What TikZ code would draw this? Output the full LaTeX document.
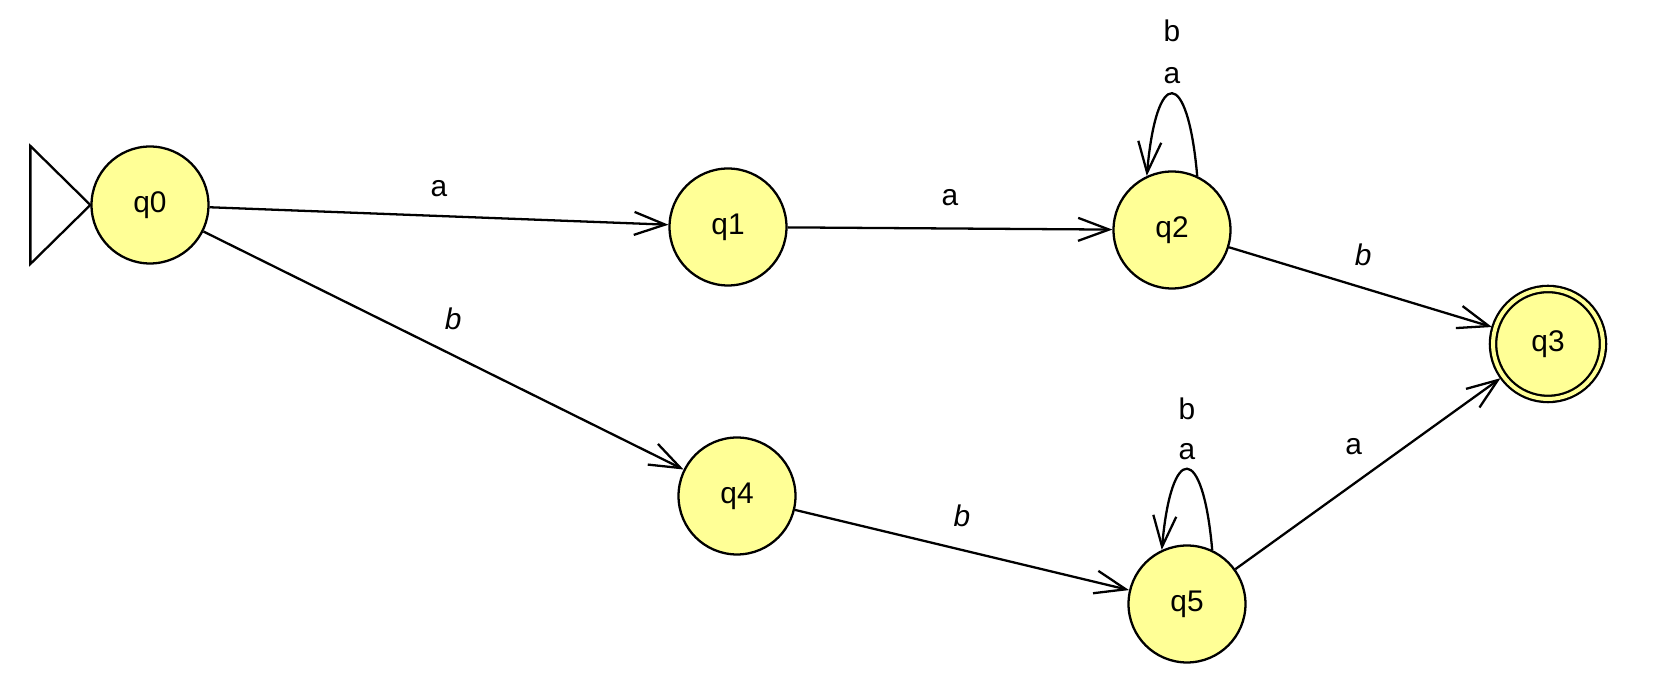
\documentclass[tikz,border=0pt]{standalone}
\usepackage{fontspec}
\setmainfont{Liberation Sans}
\usepackage{tikz}
\usetikzlibrary{arrows.meta}
\usetikzlibrary{positioning}
\definecolor{statefill}{RGB}{255,255,150}

\begin{document}
\begin{tikzpicture}[x=0.02cm, y=0.02cm,
    state/.style={circle, draw, fill=statefill, line width=1.3pt, minimum size=2.34cm, inner sep=0pt, font=\fontsize{17}{20}\selectfont},
    final/.style={state, minimum size=2.2cm, double=statefill, double distance=0.08cm, outer sep=0.07cm},
    trans/.style={line width=1.3pt, -{Straight Barb[length=0.62cm, width=0.46cm]}},
    lbl/.style={font=\fontsize{17}{20}\selectfont, inner sep=0.1cm}]
  \useasboundingbox (0,0) rectangle (1654,678);
  \node[state] (q0) at (150,473) {q0};
  \node[state] (q1) at (728,451) {q1};
  \node[state] (q2) at (1172,448) {q2};
  \node[final] (q3) at (1548,334) {q3};
  \node[state] (q4) at (737,182) {q4};
  \node[state] (q5) at (1187,74) {q5};
  \draw[line width=1.3pt, line join=miter] (q0.west) -- ++(-60,59) -- ++(0,-118) -- cycle;
  \draw[trans] (q0) -- node[lbl, above=0.26cm] (l01) {a} (q1);
  \draw[trans] (q1) -- node[lbl, above=0.34cm] (l12) {a} (q2);
  \draw[trans] (q2) -- node[lbl, above=0.32cm, pos=0.51] (l23) {\itshape b} (q3);
  \draw[trans] (q0) -- node[lbl, above=0.38cm, pos=0.52] (l04) {\itshape b} (q4);
  \draw[trans] (q4) -- node[lbl, above=0.34cm] (l45) {\itshape b} (q5);
  \draw[trans] (q5) -- node[lbl, above=0.46cm, pos=0.446] (l53) {a} (q3);
  \draw[trans] (q2.65) .. controls +(95:110) and +(85:110) .. (q2.115)
    node[lbl, midway, anchor=base, yshift=0.2cm] (q2la) {a};
  \node[lbl, anchor=base] (q2lb) at ([yshift=0.84cm]q2la.base) {b};
  \draw[trans] (q5.65) .. controls +(95:108) and +(85:108) .. (q5.115)
    node[lbl, midway, anchor=base, yshift=0.2cm] (q5la) {a};
  \node[lbl, anchor=base] (q5lb) at ([yshift=0.8cm]q5la.base) {b};
\end{tikzpicture}
\end{document}
